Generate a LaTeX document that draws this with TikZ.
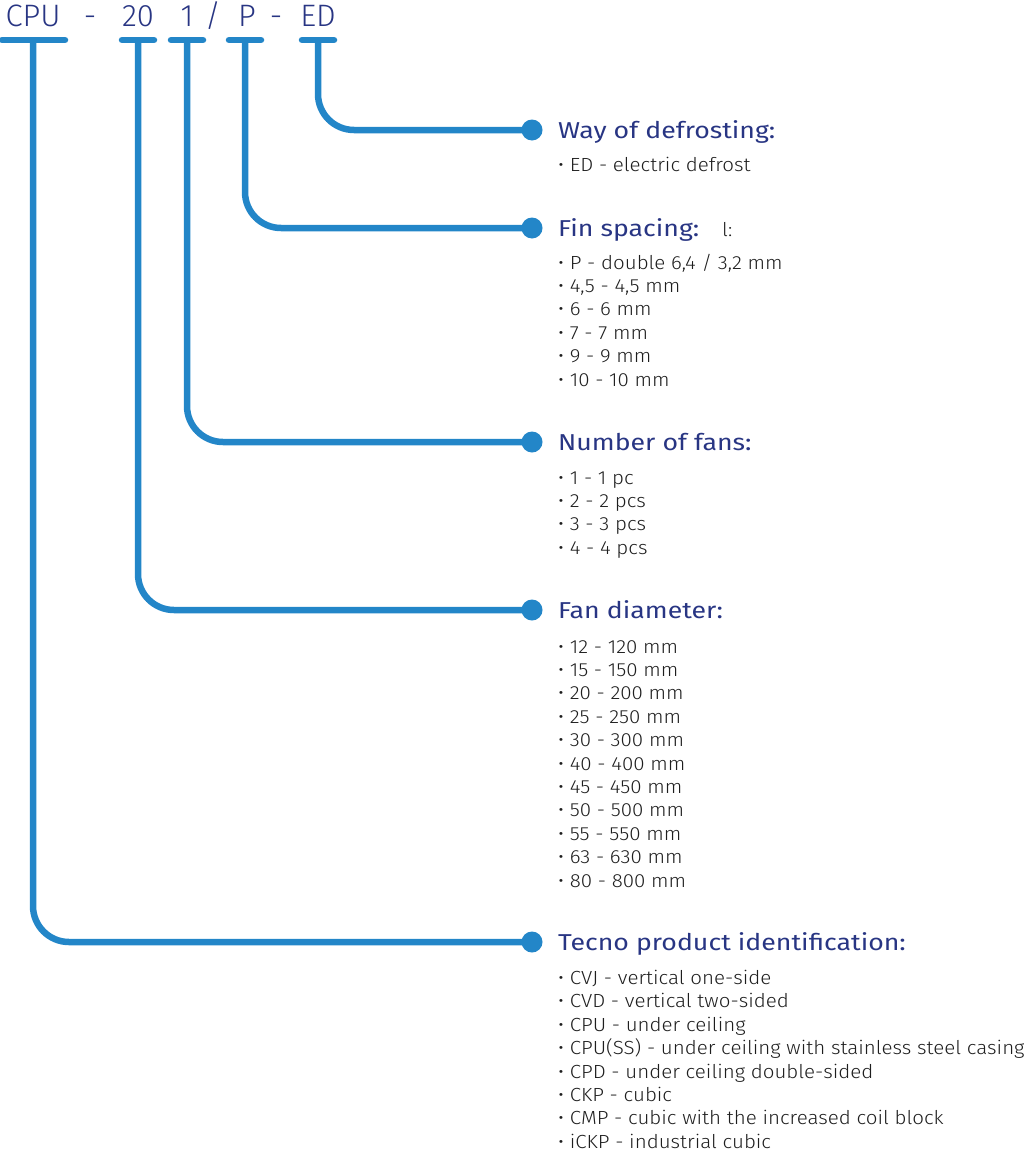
\documentclass[tikz,border=0pt]{standalone}
\usepackage{fontspec}
\setmainfont{Fira Sans}
\newfontfamily\codefont{Fira Sans Light}
\newfontfamily\thinfont[FakeStretch=1.08]{Fira Sans Light}
\newfontfamily\headfont[FakeStretch=1.16]{Fira Sans}
\usepackage{tikz}
\usetikzlibrary{positioning}

\definecolor{leadblue}{HTML}{2386C8}
\definecolor{navy}{HTML}{283583}
\definecolor{bodygray}{HTML}{1E1E1E}

\tikzset{
  lead/.style={leadblue, line width=6.5pt, rounded corners=36pt},
  bar/.style={leadblue, line width=6.5pt, line cap=round},
  dot/.style={circle, fill=leadblue, minimum size=21pt, inner sep=0pt},
  code/.style={navy, anchor=base, inner sep=0pt, font=\codefont\fontsize{31}{31}\selectfont},
  head/.style={navy, anchor=base west, inner sep=0pt, font=\headfont\fontsize{23}{25}\selectfont},
  item/.style={bodygray, anchor=base west, inner sep=0pt, font=\thinfont\fontsize{19}{21}\selectfont}
}

\begin{document}
\begin{tikzpicture}[x=1pt, y=-1pt]
      \useasboundingbox (0,0) rectangle (1024,1151);

      % type code
      \node[code] (cpu) at (33,26) {CPU};
      \node[code] at (90,26) {-};
      \node[code] (size) at (138,26) {20};
      \node[code] (fans) at (187,26) {1};
      \node[code] at (213,26) {/};
      \node[code] (fin) at (247,26) {P};
      \node[code] at (276,26) {-};
      \node[code] (defr) at (318,26) {ED};

      \coordinate (cpuTop) at (33,40);
      \coordinate (sizeTop) at (138,40);
      \coordinate (fansTop) at (187,40);
      \coordinate (finTop) at (245,40);
      \coordinate (defrTop) at (318,40);

      \draw[bar] (2,40) -- (65,40);
      \foreach \c in {sizeTop,fansTop,finTop,defrTop}
        \draw[bar] (\c) ++(-16,0) -- ++(32,0);

      % end points
      \node[dot] (dWay) at (532,130) {};
      \node[dot] (dFin) at (532,228) {};
      \node[dot] (dFans) at (532,442) {};
      \node[dot] (dSize) at (532,610) {};
      \node[dot] (dCpu) at (532,942) {};

      \draw[lead] (defrTop) |- (dWay.center);
      \draw[lead] (finTop) |- (dFin.center);
      \draw[lead] (fansTop) |- (dFans.center);
      \draw[lead] (sizeTop) |- (dSize.center);
      \draw[lead] (cpuTop) |- (dCpu.center);

      % headings
      \node[head] (hWay) at (558,138) {Way of defrosting:};
      \node[head] (hFin) at (558,236) {Fin spacing:};
      \node[item] at (722,236) {l:};
      \node[head] (hFans) at (558,450) {Number of fans:};
      \node[head] (hSize) at (558,618) {Fan diameter:};
      \node[head] (hCpu) at (558,950) {Tecno product identification:};

      % lists
      \node[item] at (558,171) {• ED - electric defrost};

      \foreach \t [count=\i from 0] in {P - double 6{,}4 / 3{,}2 mm, 4{,}5 - 4{,}5 mm, 6 - 6 mm, 7 - 7 mm, 9 - 9 mm, 10 - 10 mm}
        \node[item] at (558,269+23.4*\i) {• \t};

      \foreach \t [count=\i from 0] in {1 - 1 pc, 2 - 2 pcs, 3 - 3 pcs, 4 - 4 pcs}
        \node[item] at (558,484+23.4*\i) {• \t};

      \foreach \t [count=\i from 0] in {12 - 120 mm, 15 - 150 mm, 20 - 200 mm, 25 - 250 mm, 30 - 300 mm, 40 - 400 mm, 45 - 450 mm, 50 - 500 mm, 55 - 550 mm, 63 - 630 mm, 80 - 800 mm}
        \node[item] at (558,653+23.4*\i) {• \t};

      \foreach \t [count=\i from 0] in {CVJ - vertical one-side, CVD - vertical two-sided, CPU - under ceiling, CPU(SS) - under ceiling with stainless steel casing, CPD - under ceiling double-sided, CKP - cubic, CMP - cubic with the increased coil block, iCKP - industrial cubic}
        \node[item] at (558,984.5+23.4*\i) {• \t};
    \end{tikzpicture}
\end{document}
